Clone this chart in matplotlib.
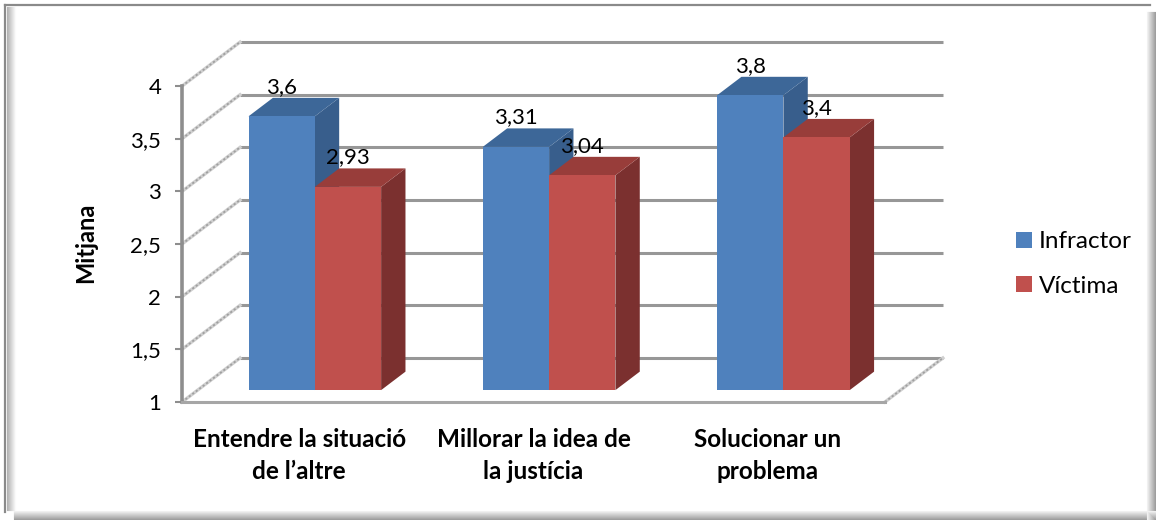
import matplotlib
matplotlib.use("Agg")
import matplotlib.pyplot as plt
from matplotlib.patches import Polygon, Patch
from matplotlib.lines import Line2D

categories = ["Entendre la situació\nde l’altre", "Millorar la idea de\nla justícia",
              "Solucionar un\nproblema"]
series_names = ["Infractor", "Víctima"]
infractor = [3.6, 3.31, 3.8]
victima = [2.93, 3.04, 3.4]
y_ticks = [1, 1.5, 2, 2.5, 3, 3.5, 4]
y_tick_labels = ["1", "1,5", "2", "2,5", "3", "3,5", "4"]

front_colors = ["#4f81bd", "#c0504d"]
top_colors = ["#3d6798", "#983d3a"]
side_colors = ["#385e8c", "#7b302f"]

W, H = 1156, 520
# pixel layout of the front plane
X0, CAT_PX = 182, 234.3
Y1, UNIT_PX = 402, 105.3
DEPTH_X, DEPTH_Y = 58 / CAT_PX, 44 / UNIT_PX
D0, D1 = 0.27, 0.69      # depth slice occupied by the bars
BAR_W = 0.283

plt.rcParams["font.family"] = ["Lato", "DejaVu Sans"]

fig = plt.figure(figsize=(W / 100, H / 100), dpi=100)
ax = fig.add_axes([0, 0, 1, 1])
ax.set_xlim(-X0 / CAT_PX, (W - X0) / CAT_PX)
ax.set_ylim(1 - (H - Y1) / UNIT_PX, 1 + Y1 / UNIT_PX)
ax.patch.set_visible(False)


def proj(x, v, d):
    return (x + d * DEPTH_X, v + d * DEPTH_Y)


# back wall gridlines
for v in y_ticks:
    a = proj(0, v, 1)
    b = proj(3, v, 1)
    ax.plot([a[0], b[0]], [a[1], b[1]], color="#979797", lw=2.2, zorder=1,
            solid_capstyle="butt")
    # side wall lines
    c = proj(0, v, 0)
    ax.plot([c[0], a[0]], [c[1], a[1]], color="#d0d0d0", lw=2.4, zorder=1)
    ax.plot([c[0], a[0]], [c[1], a[1]], color="#a0a0a0", lw=1.3, zorder=1,
            dashes=(1.2, 1.2))

# right floor edge
a, b = proj(3, 1, 0), proj(3, 1, 1)
ax.plot([a[0], b[0]], [a[1], b[1]], color="#d0d0d0", lw=2.4, zorder=1)
ax.plot([a[0], b[0]], [a[1], b[1]], color="#a0a0a0", lw=1.3, zorder=1,
        dashes=(1.2, 1.2))

# bars
for i in range(len(categories)):
    center = i + 0.5
    for s, vals in enumerate([infractor, victima]):
        v = vals[i]
        x0 = center - BAR_W + s * BAR_W
        x1 = x0 + BAR_W
        side = [proj(x1, 1, D0), proj(x1, 1, D1), proj(x1, v, D1), proj(x1, v, D0)]
        top = [proj(x0, v, D0), proj(x1, v, D0), proj(x1, v, D1), proj(x0, v, D1)]
        front = [proj(x0, 1, D0), proj(x1, 1, D0), proj(x1, v, D0), proj(x0, v, D0)]
        z = 3 + s
        ax.add_patch(Polygon(side, closed=True, fc=side_colors[s], ec="none", zorder=z))
        ax.add_patch(Polygon(top, closed=True, fc=top_colors[s], ec="none", zorder=z))
        ax.add_patch(Polygon(front, closed=True, fc=front_colors[s], ec="none", zorder=z))
        lx, ly = proj((x0 + x1) / 2, v, D1)
        ax.text((x0 + x1) / 2 + D0 * DEPTH_X, ly + 0.01, f"{v:g}".replace(".", ","),
                ha="center", va="bottom", fontsize=16, zorder=10)

# axes
for side in ["top", "right"]:
    ax.spines[side].set_visible(False)
ax.spines["left"].set_position(("data", 0))
ax.spines["left"].set_bounds(1, 4)
ax.spines["left"].set_color("#8e8e8e")
ax.spines["left"].set_linewidth(2.6)
ax.spines["bottom"].set_position(("data", 1))
ax.spines["bottom"].set_bounds(0, 3)
ax.spines["bottom"].set_color("#a6a6a6")
ax.spines["bottom"].set_linewidth(2.2)
ax.set_yticks(y_ticks, y_tick_labels)
ax.tick_params(axis="y", length=5, width=1.5, color="#8e8e8e", pad=10, labelsize=16)
ax.set_xticks([0.5, 1.5, 2.5], categories)
ax.tick_params(axis="x", length=0, pad=19)
for lab in ax.get_xticklabels():
    lab.set_fontsize(17.5)
    lab.set_fontweight("bold")
    lab.set_linespacing(1.45)

fig.text(86 / W, 1 - 243 / H, "Mitjana", rotation=90, fontsize=17, fontweight="bold",
         ha="center", va="center")

handles = [Patch(fc=c, ec="none") for c in front_colors]
ax.legend(handles, series_names, loc="center left", frameon=False, fontsize=17.5,
          bbox_to_anchor=(1016 / W, 1 - 264 / H), bbox_transform=fig.transFigure,
          handlelength=0.65, handleheight=0.65, handletextpad=0.3, labelspacing=0.95,
          borderpad=0, borderaxespad=0)

# chart border with soft shadow
fig.add_artist(Line2D([5 / W, 1150 / W], [1 - 5 / H, 1 - 5 / H], color="#8a8a8a", lw=1.6))
fig.add_artist(Line2D([5 / W, 5 / W], [1 - 5 / H, 1 - 512 / H], color="#8a8a8a", lw=1.6))
for k in range(9):
    g = 0.62 + 0.04 * k
    fig.add_artist(Line2D([(1155 - k) / W] * 2, [1 - 12 / H, 1 - 519 / H], color=str(g), lw=0.8))
    fig.add_artist(Line2D([14 / W, 1155 / W], [1 - (519 - k) / H] * 2, color=str(g), lw=0.8))
    fig.add_artist(Line2D([(7 + k) / W] * 2, [1 - 7 / H, 1 - 510 / H], color=str(0.7 + 0.035 * k), lw=0.8))

fig.savefig("out.png", dpi=100)
